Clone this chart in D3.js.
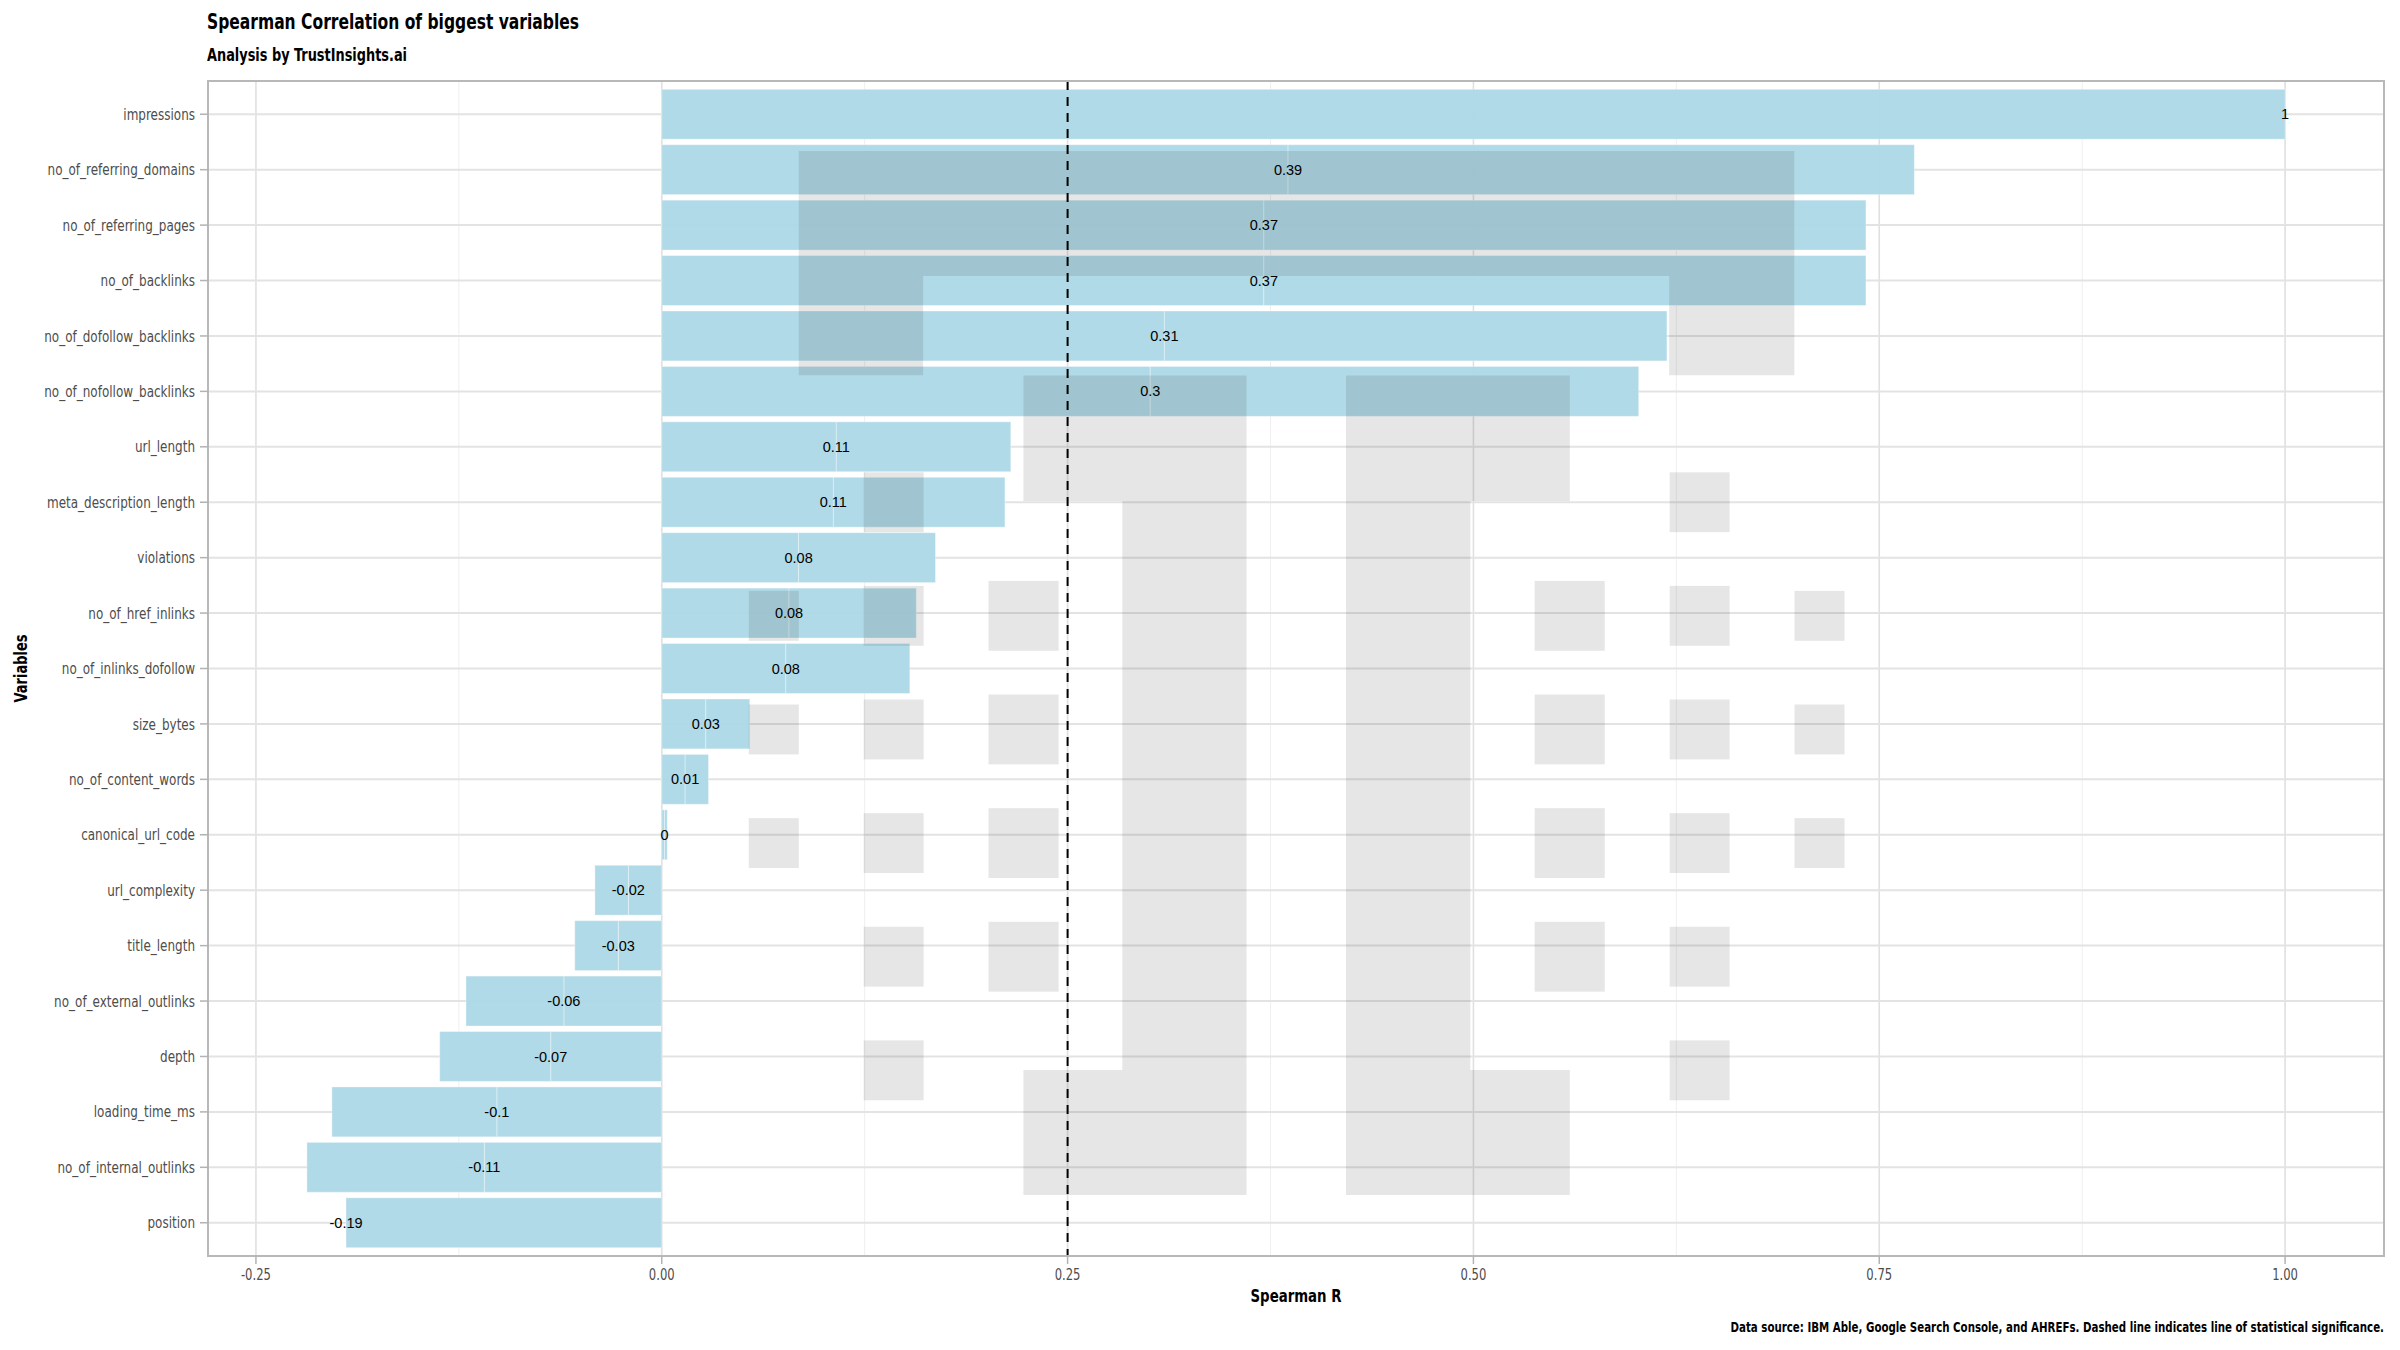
<!DOCTYPE html>
<html>
<head>
<meta charset="utf-8">
<script src="https://cdn.jsdelivr.net/npm/d3@7"></script>
<style>
  html, body { margin: 0; padding: 0; background: #ffffff; }
  svg { display: block; }
  .cond { font-family: "Liberation Sans Narrow", "DejaVu Sans Condensed", "Roboto Condensed", "Roboto", sans-serif; }
  .lbl { font-family: "Liberation Sans", Arial, sans-serif; }
</style>
</head>
<body>
<svg id="chart" width="2400" height="1350"></svg>
<script>
// ---------------- data ----------------
const variables = [
  "impressions", "no_of_referring_domains", "no_of_referring_pages", "no_of_backlinks",
  "no_of_dofollow_backlinks", "no_of_nofollow_backlinks", "url_length", "meta_description_length",
  "violations", "no_of_href_inlinks", "no_of_inlinks_dofollow", "size_bytes",
  "no_of_content_words", "canonical_url_code", "url_complexity", "title_length",
  "no_of_external_outlinks", "depth", "loading_time_ms", "no_of_internal_outlinks", "position"
];
// Spearman R per variable (label positions)
const spearmanR = [
  1.0, 0.3858, 0.3709, 0.3709,
  0.3096, 0.3009, 0.1075, 0.1057,
  0.0843, 0.0784, 0.0764, 0.0271,
  0.0144, 0.0017, -0.0206, -0.0268,
  -0.0603, -0.0684, -0.1016, -0.1093, -0.1945
];
// number of stacked rows of each variable in the plotted table
const stackedRows = [1, 2, 2, 2, 2, 2, 2, 2, 2, 2, 2, 2, 2, 2, 2, 2, 2, 2, 2, 2, 1];
const xTicks = [-0.25, 0, 0.25, 0.5, 0.75, 1.0];
const xMinorTicks = [-0.125, 0.125, 0.375, 0.625, 0.875];
const significanceLine = 0.25;

const titleText = "Spearman Correlation of biggest variables";
const subtitleText = "Analysis by TrustInsights.ai";
const captionText = "Data source: IBM Able, Google Search Console, and AHREFs. Dashed line indicates line of statistical significance.";
const xTitle = "Spearman R";
const yTitle = "Variables";

// decorative watermark (logo) in chart units: x in Spearman R, y in row index
const logoCenter = 0.3911;
const logoShapes = [
  [[0.0844,0.661],[0.6977,0.661],[0.6977,4.71],[0.6206,4.71],[0.6206,2.917],[0.161,2.917],[0.161,4.71],[0.0844,4.71]],
  [[0.2228,4.715],[0.3602,4.715],[0.3602,19.5],[0.2228,19.5],[0.2228,17.245],[0.2837,17.245],[0.2837,6.98],[0.2228,6.98]],
  [[0.4215,4.715],[0.5594,4.715],[0.5594,6.98],[0.4981,6.98],[0.4981,17.245],[0.5594,17.245],[0.5594,19.5],[0.4215,19.5]]
];
const logoDotColumns = [
  { x0: 0.0536, x1: 0.0844, h: 0.90, rows: [9.05, 11.1, 13.15] },
  { x0: 0.1244, x1: 0.1613, h: 1.08, rows: [7.0, 9.05, 11.1, 13.15, 15.2, 17.25] },
  { x0: 0.2013, x1: 0.2445, h: 1.26, rows: [9.05, 11.1, 13.15, 15.2] }
];

// ---------------- layout ----------------
const W = 2400, H = 1350;
const panel = { left: 208, right: 2384, top: 81, bottom: 1256 };

const svg = d3.select("#chart");
svg.append("rect").attr("width", W).attr("height", H).attr("fill", "#ffffff");

// squeeze text horizontally to mimic the condensed typeface
function condense(sel, k) {
  sel.each(function () {
    const w = this.getComputedTextLength();
    d3.select(this).attr("textLength", w * k).attr("lengthAdjust", "spacingAndGlyphs");
  });
}
function fitWidth(sel, width) {
  sel.attr("textLength", width).attr("lengthAdjust", "spacingAndGlyphs");
}

// build stacked segments
const segments = [];
variables.forEach((v, i) => {
  for (let k = 0; k < stackedRows[i]; k++) {
    segments.push({ variable: v, x0: k * spearmanR[i], x1: (k + 1) * spearmanR[i] });
  }
});
const barExtent = d3.extent(segments.flatMap(s => [s.x0, s.x1]));
const span = barExtent[1] - barExtent[0];
const x = d3.scaleLinear()
  .domain([barExtent[0] - 0.05 * span, barExtent[1] + 0.05 * span])
  .range([panel.left, panel.right]);

const y = d3.scaleBand().domain(variables)
  .range([panel.top, panel.bottom])
  .paddingInner(0.1).paddingOuter(0.15);
const yRow = d3.scaleLinear().domain([0, variables.length - 1])
  .range([y(variables[0]) + y.bandwidth() / 2, y(variables[variables.length - 1]) + y.bandwidth() / 2]);

const g = svg.append("g");

// grid
g.append("g").selectAll("line").data(xMinorTicks).join("line")
  .attr("x1", d => x(d)).attr("x2", d => x(d))
  .attr("y1", panel.top).attr("y2", panel.bottom)
  .attr("stroke", "#efefef").attr("stroke-width", 1);
g.append("g").selectAll("line").data(xTicks).join("line")
  .attr("x1", d => x(d)).attr("x2", d => x(d))
  .attr("y1", panel.top).attr("y2", panel.bottom)
  .attr("stroke", "#e0e0e0").attr("stroke-width", 1.6);
g.append("g").selectAll("line").data(variables).join("line")
  .attr("x1", panel.left).attr("x2", panel.right)
  .attr("y1", d => y(d) + y.bandwidth() / 2).attr("y2", d => y(d) + y.bandwidth() / 2)
  .attr("stroke", "#e3e3e3").attr("stroke-width", 2);

// bars
g.append("g").selectAll("rect").data(segments).join("rect")
  .attr("x", d => x(Math.min(d.x0, d.x1)))
  .attr("width", d => Math.abs(x(d.x1) - x(d.x0)))
  .attr("y", d => y(d.variable))
  .attr("height", y.bandwidth())
  .attr("fill", "#ADD8E6").attr("fill-opacity", 0.96)
  .attr("stroke", "#ffffff").attr("stroke-opacity", 0.35).attr("stroke-width", 1);

// watermark logo
const logo = g.append("g").attr("fill", "#323232").attr("fill-opacity", 0.122);
const line = d3.line().x(p => x(p[0])).y(p => yRow(p[1]));
logoShapes.forEach(poly => {
  logo.append("path").attr("d", line(poly) + "Z");
});
logoDotColumns.forEach(col => {
  [[col.x0, col.x1], [2 * logoCenter - col.x1, 2 * logoCenter - col.x0]].forEach(([a, b]) => {
    col.rows.forEach(r => {
      logo.append("rect")
        .attr("x", x(a)).attr("width", x(b) - x(a))
        .attr("y", yRow(r - col.h / 2)).attr("height", yRow(r + col.h / 2) - yRow(r - col.h / 2));
    });
  });
});

// significance line
g.append("line")
  .attr("x1", x(significanceLine)).attr("x2", x(significanceLine))
  .attr("y1", panel.top).attr("y2", panel.bottom)
  .attr("stroke", "#000").attr("stroke-width", 2).attr("stroke-dasharray", "9,7");

// value labels
g.append("g").selectAll("text").data(variables).join("text")
  .attr("class", "lbl")
  .attr("x", (d, i) => x(spearmanR[i]))
  .attr("y", d => y(d) + y.bandwidth() / 2)
  .attr("dy", "0.35em")
  .attr("text-anchor", "middle")
  .attr("font-size", 14.5)
  .attr("fill", "#000")
  .text((d, i) => String(+spearmanR[i].toFixed(2)));

// panel border
g.append("rect")
  .attr("x", panel.left).attr("y", panel.top)
  .attr("width", panel.right - panel.left).attr("height", panel.bottom - panel.top)
  .attr("fill", "none").attr("stroke", "#b8b8b8").attr("stroke-width", 2);

// axes
const yAxis = svg.append("g").attr("class", "cond");
yAxis.selectAll("line").data(variables).join("line")
  .attr("x1", panel.left - 8).attr("x2", panel.left)
  .attr("y1", d => y(d) + y.bandwidth() / 2).attr("y2", d => y(d) + y.bandwidth() / 2)
  .attr("stroke", "#b3b3b3").attr("stroke-width", 1.5);
yAxis.selectAll("text").data(variables).join("text")
  .attr("x", panel.left - 13)
  .attr("y", d => y(d) + y.bandwidth() / 2)
  .attr("dy", "0.36em").attr("text-anchor", "end")
  .attr("font-size", 15.5).attr("fill", "#4d4d4d")
  .text(d => d)
  .call(condense, 0.86);

const xAxis = svg.append("g").attr("class", "cond");
xAxis.selectAll("line").data(xTicks).join("line")
  .attr("x1", d => x(d)).attr("x2", d => x(d))
  .attr("y1", panel.bottom).attr("y2", panel.bottom + 8)
  .attr("stroke", "#b3b3b3").attr("stroke-width", 1.5);
xAxis.selectAll("text").data(xTicks).join("text")
  .attr("x", d => x(d)).attr("y", panel.bottom + 24)
  .attr("text-anchor", "middle")
  .attr("font-size", 15).attr("fill", "#4d4d4d")
  .text(d => d3.format(".2f")(d).replace("−", "-"))
  .call(condense, 0.86);

// titles
svg.append("text").attr("class", "cond")
  .attr("x", (panel.left + panel.right) / 2).attr("y", 1302)
  .attr("text-anchor", "middle").attr("font-size", 17).attr("font-weight", "bold").attr("fill", "#000")
  .text(xTitle).call(fitWidth, 91);
svg.append("text").attr("class", "cond")
  .attr("transform", `translate(27,${(panel.top + panel.bottom) / 2}) rotate(-90)`)
  .attr("text-anchor", "middle").attr("font-size", 17).attr("font-weight", "bold").attr("fill", "#000")
  .text(yTitle).call(fitWidth, 68);
svg.append("text").attr("class", "cond")
  .attr("x", 207).attr("y", 29)
  .attr("font-size", 22).attr("font-weight", "bold").attr("fill", "#000")
  .text(titleText).call(fitWidth, 372);
svg.append("text").attr("class", "cond")
  .attr("x", 207).attr("y", 61)
  .attr("font-size", 17).attr("font-weight", "bold").attr("fill", "#000")
  .text(subtitleText).call(fitWidth, 200);

// caption: horizontally scaled group so its box matches the reference width
const capG = svg.append("g");
const cap = capG.append("text").attr("class", "cond")
  .attr("x", 0).attr("y", 0)
  .attr("text-anchor", "end")
  .attr("font-size", 14.5).attr("font-weight", "bold").attr("fill", "#000")
  .text(captionText);
const capScale = 654 / cap.node().getComputedTextLength();
capG.attr("transform", `translate(${panel.right},1332) scale(${capScale},1)`);
</script>
</body>
</html>
